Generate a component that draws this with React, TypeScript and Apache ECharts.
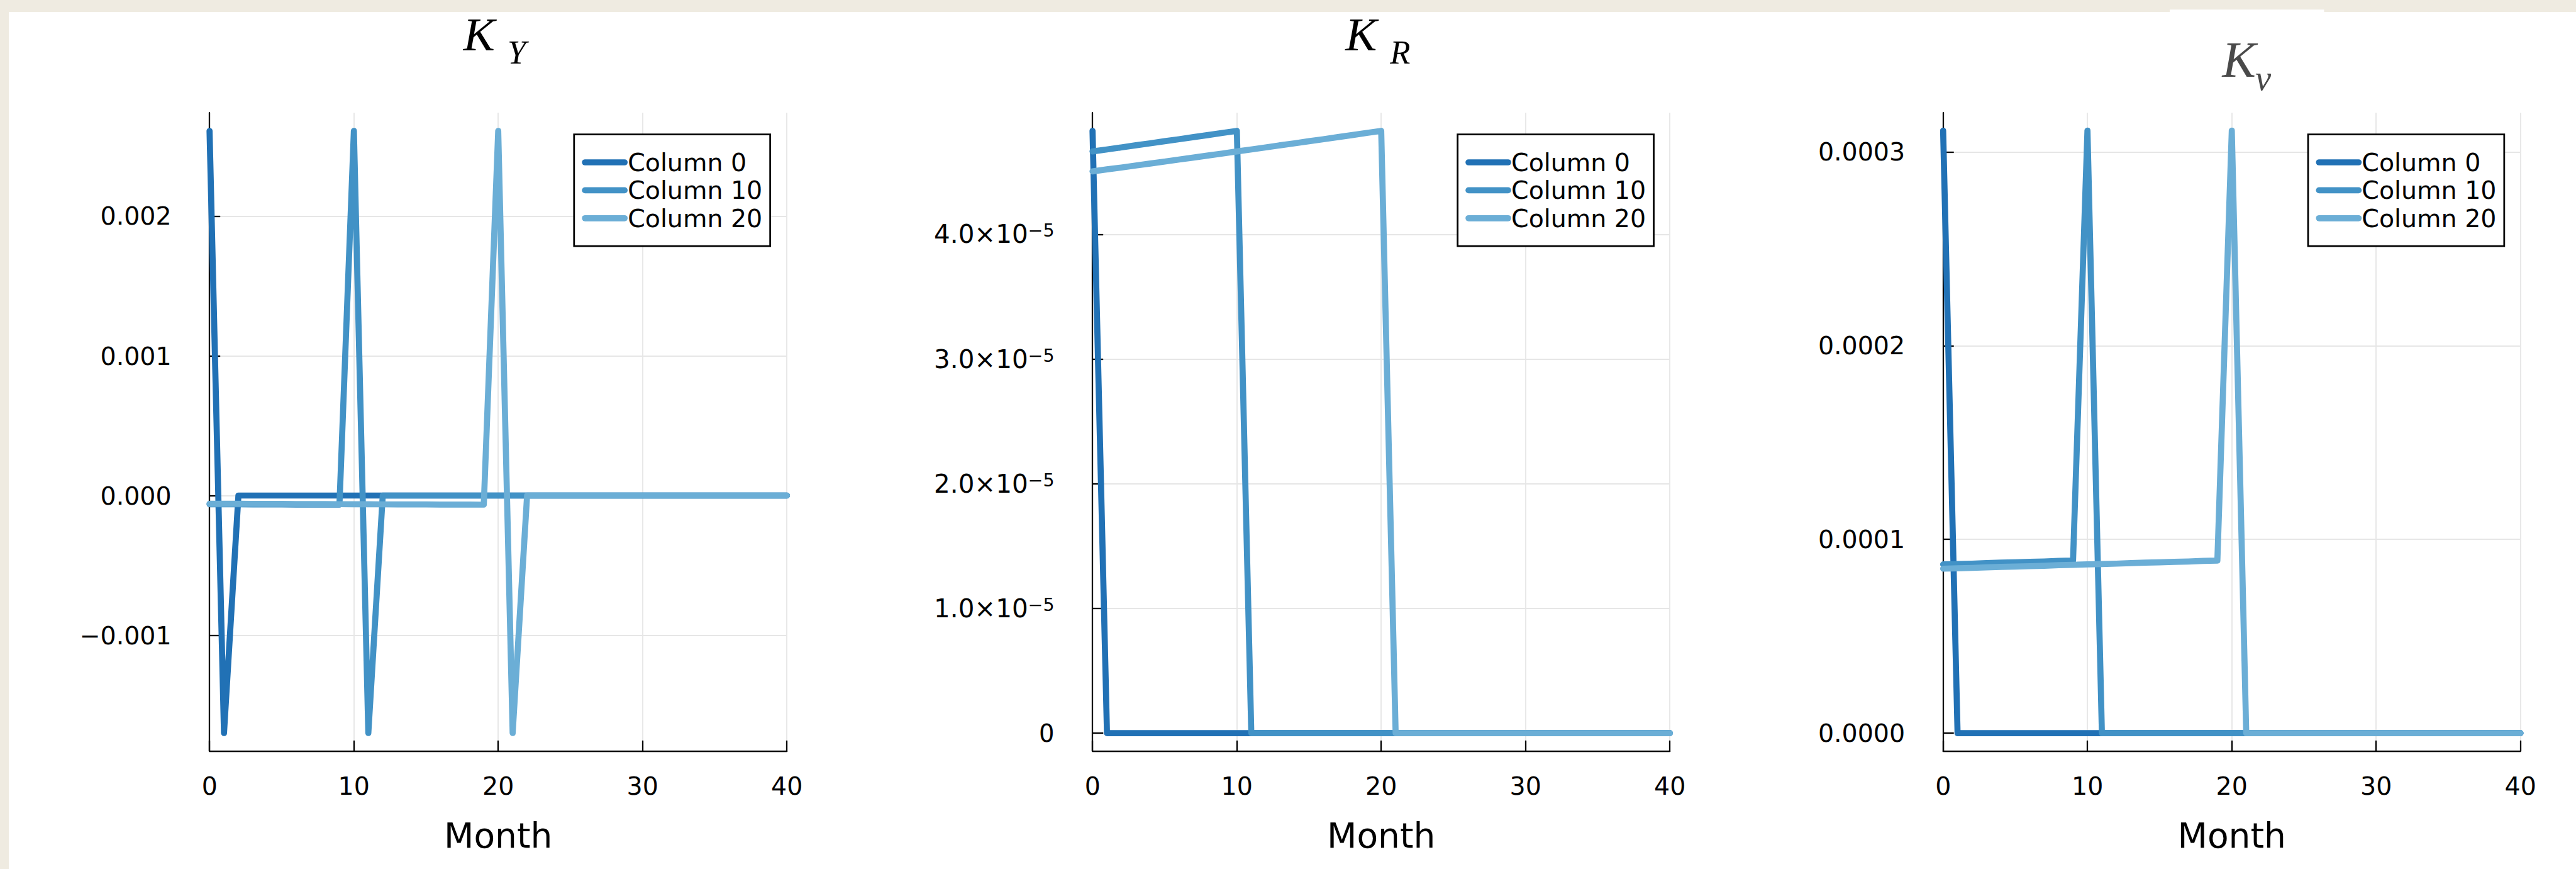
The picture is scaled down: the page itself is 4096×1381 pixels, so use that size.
import React, { useEffect, useRef } from "react";
import * as echarts from "echarts";

// ---------------- data ----------------
const months = [0, 1, 2, 3, 4, 5, 6, 7, 8, 9, 10, 11, 12, 13, 14, 15, 16, 17, 18, 19, 20, 21, 22, 23, 24, 25, 26, 27, 28, 29, 30, 31, 32, 33, 34, 35, 36, 37, 38, 39, 40];
const seriesNames = ["Column 0", "Column 10", "Column 20"];

// K_Y
const kyCol0 = [0.00261, -0.0017, 0, 0, 0, 0, 0, 0, 0, 0, 0, 0, 0, 0, 0, 0, 0, 0, 0, 0, 0, 0, 0, 0, 0, 0, 0, 0, 0, 0, 0, 0, 0, 0, 0, 0, 0, 0, 0, 0, 0];
const kyCol10 = [-6.22e-5, -6.25e-5, -6.29e-5, -6.32e-5, -6.36e-5, -6.39e-5, -6.43e-5, -6.46e-5, -6.5e-5, -6.53e-5, 0.00261, -0.0017, 0, 0, 0, 0, 0, 0, 0, 0, 0, 0, 0, 0, 0, 0, 0, 0, 0, 0, 0, 0, 0, 0, 0, 0, 0, 0, 0, 0, 0];
const kyCol20 = [-5.87e-5, -5.9e-5, -5.94e-5, -5.97e-5, -6.01e-5, -6.04e-5, -6.08e-5, -6.11e-5, -6.15e-5, -6.18e-5, -6.22e-5, -6.25e-5, -6.29e-5, -6.32e-5, -6.36e-5, -6.39e-5, -6.43e-5, -6.46e-5, -6.5e-5, -6.53e-5, 0.00261, -0.0017, 0, 0, 0, 0, 0, 0, 0, 0, 0, 0, 0, 0, 0, 0, 0, 0, 0, 0, 0];

// K_R
const krCol0 = [4.83e-5, 0, 0, 0, 0, 0, 0, 0, 0, 0, 0, 0, 0, 0, 0, 0, 0, 0, 0, 0, 0, 0, 0, 0, 0, 0, 0, 0, 0, 0, 0, 0, 0, 0, 0, 0, 0, 0, 0, 0, 0];
const krCol10 = [4.665e-5, 4.681e-5, 4.697e-5, 4.714e-5, 4.73e-5, 4.747e-5, 4.763e-5, 4.78e-5, 4.796e-5, 4.813e-5, 4.83e-5, 0, 0, 0, 0, 0, 0, 0, 0, 0, 0, 0, 0, 0, 0, 0, 0, 0, 0, 0, 0, 0, 0, 0, 0, 0, 0, 0, 0, 0, 0];
const krCol20 = [4.505e-5, 4.521e-5, 4.536e-5, 4.552e-5, 4.568e-5, 4.584e-5, 4.6e-5, 4.616e-5, 4.632e-5, 4.648e-5, 4.665e-5, 4.681e-5, 4.697e-5, 4.714e-5, 4.73e-5, 4.747e-5, 4.763e-5, 4.78e-5, 4.796e-5, 4.813e-5, 4.83e-5, 0, 0, 0, 0, 0, 0, 0, 0, 0, 0, 0, 0, 0, 0, 0, 0, 0, 0, 0, 0];

// K_nu
const knCol0 = [3.11e-4, 0, 0, 0, 0, 0, 0, 0, 0, 0, 0, 0, 0, 0, 0, 0, 0, 0, 0, 0, 0, 0, 0, 0, 0, 0, 0, 0, 0, 0, 0, 0, 0, 0, 0, 0, 0, 0, 0, 0, 0];
const knCol10 = [8.71e-5, 8.73e-5, 8.75e-5, 8.78e-5, 8.8e-5, 8.82e-5, 8.84e-5, 8.86e-5, 8.89e-5, 8.91e-5, 3.11e-4, 0, 0, 0, 0, 0, 0, 0, 0, 0, 0, 0, 0, 0, 0, 0, 0, 0, 0, 0, 0, 0, 0, 0, 0, 0, 0, 0, 0, 0, 0];
const knCol20 = [8.49e-5, 8.51e-5, 8.53e-5, 8.56e-5, 8.58e-5, 8.6e-5, 8.62e-5, 8.64e-5, 8.67e-5, 8.69e-5, 8.71e-5, 8.73e-5, 8.75e-5, 8.78e-5, 8.8e-5, 8.82e-5, 8.84e-5, 8.86e-5, 8.89e-5, 8.91e-5, 3.11e-4, 0, 0, 0, 0, 0, 0, 0, 0, 0, 0, 0, 0, 0, 0, 0, 0, 0, 0, 0, 0];

// ticks
const xTicks = [0, 10, 20, 30, 40];
const kyTicks = [-0.001, 0, 0.001, 0.002];
const kyTickLabels = ["\u22120.001", "0.000", "0.001", "0.002"];
const krTicks = [0, 1e-5, 2e-5, 3e-5, 4e-5];
const krTickMantissa = ["0", "1.0", "2.0", "3.0", "4.0"];
const krTickExponent = "\u22125";
const knTicks = [0, 1e-4, 2e-4, 3e-4];
const knTickLabels = ["0.0000", "0.0001", "0.0002", "0.0003"];

// ---------------- layout / style ----------------
const W = 4096;
const H = 1381;
const SANS = "DejaVu Sans";
const SERIF = "Liberation Serif";
const COLORS = ["#2171B5", "#4292C6", "#6BAED6"];
const LINE_W = 9.7;
const GRID_TOP = 179.2;
const GRID_H = 1014.6;
const GRID_W = 918;
const GRID_LEFTS = [333.2, 1737.2, 3089.7];
const TICK_FS = 39.5;

function findIdx(ticks: number[], v: number) {
  for (let i = 0; i < ticks.length; i++) {
    if (Math.abs(ticks[i] - v) < Math.abs(ticks[1] - ticks[0]) * 1e-6) return i;
  }
  return -1;
}

function buildOption() {
  const panels = [
    { cols: [kyCol0, kyCol10, kyCol20], min: -0.00183, max: 0.00274, ticks: kyTicks },
    { cols: [krCol0, krCol10, krCol20], min: -1.45e-6, max: 4.975e-5, ticks: krTicks },
    { cols: [knCol0, knCol10, knCol20], min: -9.3e-6, max: 3.202e-4, ticks: knTicks },
  ];

  const grid = GRID_LEFTS.map((l) => ({
    left: l,
    top: GRID_TOP,
    width: GRID_W,
    height: GRID_H,
    containLabel: false,
    outerBoundsMode: "none",
  }));

  const splitLine = { show: true, lineStyle: { color: "#e6e6e6", width: 1.8 } };
  const axisLine = { show: true, onZero: false, lineStyle: { color: "#000", width: 2.3 } };
  const axisTick = { show: true, inside: true, length: 17, lineStyle: { color: "#000", width: 2.3 } };

  const xAxis = panels.map((_, i) => ({
    type: "value",
    gridIndex: i,
    min: xTicks[0],
    max: xTicks[xTicks.length - 1],
    interval: xTicks[1] - xTicks[0],
    axisLine,
    axisTick,
    splitLine,
    axisLabel: { fontSize: TICK_FS, color: "#000", fontFamily: SANS, margin: 35 },
    name: "Month",
    nameLocation: "middle",
    nameGap: 106.7,
    nameTextStyle: { fontSize: 55, color: "#000", fontFamily: SANS },
  }));

  const yFormatters = [
    (v: number) => {
      const i = findIdx(kyTicks, v);
      return i < 0 ? "" : kyTickLabels[i];
    },
    (v: number) => {
      const i = findIdx(krTicks, v);
      if (i < 0) return "";
      if (krTicks[i] === 0) return `{z|${krTickMantissa[i]}}`;
      return `{m|${krTickMantissa[i]}\u00d710}{e|${krTickExponent}}`;
    },
    (v: number) => {
      const i = findIdx(knTicks, v);
      return i < 0 ? "" : knTickLabels[i];
    },
  ];

  const yAxis = panels.map((p, i) => ({
    type: "value",
    gridIndex: i,
    min: p.min,
    max: p.max,
    axisLine,
    axisTick: { ...axisTick, customValues: p.ticks },
    splitLine,
    axisLabel: {
      customValues: p.ticks,
      fontSize: TICK_FS,
      color: "#000",
      fontFamily: SANS,
      margin: 60.6,
      formatter: yFormatters[i],
      rich: {
        m: { fontSize: 40.4, lineHeight: 40, verticalAlign: "bottom", fontFamily: SANS, color: "#000" },
        e: { fontSize: 28.5, lineHeight: 28, padding: [0, 0, 26, 0], verticalAlign: "top", fontFamily: SANS, color: "#000" },
        z: { fontSize: 38.5, lineHeight: 40, fontFamily: SANS, color: "#000" },
      },
    },
  }));

  const series: any[] = [];
  panels.forEach((p, pi) => {
    p.cols.forEach((col, ci) => {
      series.push({
        type: "line",
        name: seriesNames[ci],
        xAxisIndex: pi,
        yAxisIndex: pi,
        data: months.map((m, k) => [m, col[k]]),
        symbol: "none",
        showSymbol: false,
        color: COLORS[ci],
        lineStyle: { color: COLORS[ci], width: LINE_W, cap: "round", join: "round" },
        emphasis: { disabled: true },
        z: 2 + ci,
      });
    });
  });

  const legendLefts = [912.8, 2317.7, 3670];
  const legend = legendLefts.map((l) => ({
    left: l,
    top: 213.5,
    orient: "vertical",
    data: seriesNames,
    selectedMode: false,
    backgroundColor: "#fff",
    borderColor: "#000",
    borderWidth: 2.75,
    borderRadius: 0,
    padding: [22.3, 12.4, 22.2, 12.5],
    itemGap: 0,
    itemWidth: 63,
    itemHeight: 44.4,
    itemStyle: { opacity: 0 },
    lineStyle: { width: LINE_W, cap: "round", opacity: 1 },
    textStyle: { fontSize: TICK_FS, lineHeight: 44.4, color: "#000", fontFamily: SANS },
  }));

  const beige = "#EFEBE1";
  const graphic = [
    { type: "rect", shape: { x: 0, y: 0, width: W, height: 19 }, style: { fill: beige }, z: -10 },
    { type: "rect", shape: { x: 0, y: 0, width: 14, height: H }, style: { fill: beige }, z: -10 },
    { type: "rect", shape: { x: 3450, y: 15.3, width: 245.4, height: 3.7 }, style: { fill: "#fff" }, z: -9 },
    // titles
    { type: "text", x: 736.8, y: 54.9, style: { text: "K", font: `italic 75px "${SERIF}"`, fill: "#000", align: "left", verticalAlign: "middle" } },
    { type: "text", x: 806.9, y: 83.3, style: { text: "Y", font: `italic 52.7px "${SERIF}"`, fill: "#000", align: "left", verticalAlign: "middle" } },
    { type: "text", x: 2139.2, y: 54.9, style: { text: "K", font: `italic 75px "${SERIF}"`, fill: "#000", align: "left", verticalAlign: "middle" } },
    { type: "text", x: 2210.2, y: 83.3, style: { text: "R", font: `italic 52.7px "${SERIF}"`, fill: "#000", align: "left", verticalAlign: "middle" } },
    { type: "text", x: 3533.6, y: 95, style: { text: "K", font: `italic 80px "${SERIF}"`, fill: "#4a4a4a", align: "left", verticalAlign: "middle" } },
    { type: "text", x: 3586, y: 123.3, style: { text: "\u03bd", font: `italic 56.7px "${SERIF}"`, fill: "#4a4a4a", align: "left", verticalAlign: "middle" } },
  ];

  return {
    animation: false,
    backgroundColor: "#fff",
    textStyle: { fontFamily: SANS },
    grid,
    xAxis,
    yAxis,
    legend,
    series,
    graphic,
  };
}

export default function App() {
  const ref = useRef<HTMLDivElement>(null);
  useEffect(() => {
    const chart = echarts.init(ref.current as HTMLDivElement, null, { renderer: "svg" });
    chart.setOption(buildOption() as any);
    return () => chart.dispose();
  }, []);
  return (
    <div
      ref={ref}
      style={{ position: "fixed", left: 0, top: 0, width: W, height: H, background: "#fff" }}
    />
  );
}
